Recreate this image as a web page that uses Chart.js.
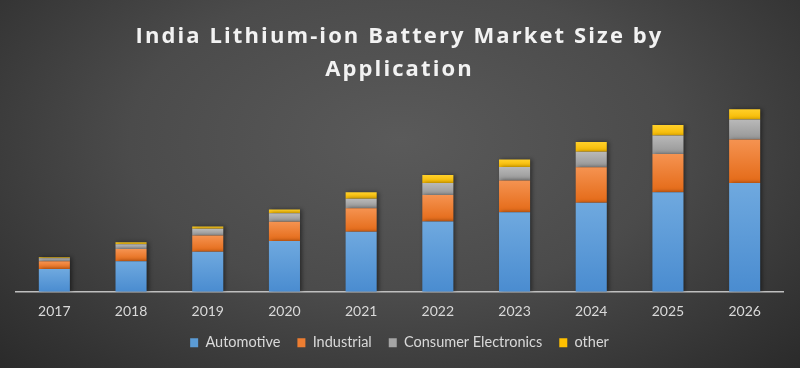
<!DOCTYPE html>
<html>
<head>
<meta charset="utf-8">
<script src="https://cdn.jsdelivr.net/npm/chart.js@4/dist/chart.umd.min.js"></script>
<style>
  html, body { margin: 0; padding: 0; }
  body {
    width: 800px; height: 368px; overflow: hidden;
    background: radial-gradient(ellipse 75% 95% at 50% 38%, #5a5a5a 0%, #4b4b4b 45%, #333333 80%, #262626 100%);
  }
  #wrap { width: 800px; height: 368px; position: relative; }
</style>
</head>
<body>
<div id="wrap"><canvas id="c"></canvas></div>
<script>
const categories = ['2017','2018','2019','2020','2021','2022','2023','2024','2025','2026'];
const automotive = [22.3, 30, 39.3, 50, 59, 69.3, 78.3, 87.7, 98, 107.3];
const industrial = [7.7, 12, 16, 19, 23.3, 26, 31.4, 35, 37.7, 42.7];
const consumerElectronics = [3, 4.7, 6.7, 8.3, 9.4, 12, 13.3, 15.3, 18.3, 19.7];
const other = [1, 2, 2.3, 3.7, 6.3, 7.7, 7.3, 9.7, 10.3, 10.3];
const seriesNames = ['Automotive', 'Industrial', 'Consumer Electronics', 'other'];
const titleLines = ['India Lithium-ion Battery Market Size by', 'Application'];

const allSeries = [automotive, industrial, consumerElectronics, other];
const palette = [
  ['#6fa9df', '#4a8cd0', '#5b9bd5'],
  ['#f59351', '#e46a17', '#ed7d31'],
  ['#b9b9b9', '#969696', '#a5a5a5'],
  ['#ffd02a', '#f5b800', '#ffc000']
];

function segGradient(si) {
  return function(ctx) {
    const chart = ctx.chart;
    const area = chart.chartArea;
    if (!area || ctx.type !== 'data') return palette[si][2];
    const y = chart.scales.y;
    let start = 0;
    for (let k = 0; k < si; k++) start += allSeries[k][ctx.dataIndex];
    const end = start + allSeries[si][ctx.dataIndex];
    const yTop = y.getPixelForValue(end);
    const yBot = y.getPixelForValue(start);
    if (!isFinite(yTop) || !isFinite(yBot) || yTop === yBot) return palette[si][2];
    const g = chart.ctx.createLinearGradient(0, yTop, 0, yBot);
    g.addColorStop(0, palette[si][0]);
    g.addColorStop(1, palette[si][1]);
    return g;
  };
}

const shadowPlugin = {
  id: 'barShadow',
  beforeDatasetsDraw(chart) {
    const c = chart.ctx;
    c.save();
    c.shadowColor = 'rgba(0,0,0,0.45)';
    c.shadowBlur = 4;
    c.shadowOffsetX = 2;
    c.shadowOffsetY = 0;
  },
  afterDatasetsDraw(chart) {
    chart.ctx.restore();
  }
};

// widen the title glyph spacing like the reference
const titleSpacingPlugin = {
  id: 'titleSpacing',
  beforeDraw(chart) {
    const tb = chart.titleBlock;
    if (tb && !tb._spaced) {
      const orig = tb.draw.bind(tb);
      tb.draw = function(...args) {
        const c = chart.ctx;
        c.save();
        c.letterSpacing = '2.1px';
        orig(...args);
        c.restore();
      };
      tb._spaced = true;
    }
  }
};

const FONT = "Lato, 'Open Sans', 'DejaVu Sans', sans-serif";

new Chart(document.getElementById('c'), {
  type: 'bar',
  data: {
    labels: categories,
    datasets: allSeries.map((arr, i) => ({
      label: seriesNames[i],
      data: arr,
      backgroundColor: segGradient(i),
      borderWidth: 0,
      barPercentage: 0.81,
      categoryPercentage: 0.5
    }))
  },
  options: {
    responsive: true,
    maintainAspectRatio: false,
    animation: false,
    layout: { padding: { left: 16, right: 17, top: 5, bottom: 8 } },
    plugins: {
      title: {
        display: true,
        text: titleLines,
        color: '#f2f2f2',
        font: { family: "'Open Sans', Lato, sans-serif", size: 22, weight: 'bold', lineHeight: 1.5 },
        padding: { top: 15, bottom: 13 }
      },
      legend: {
        position: 'bottom',
        labels: {
          color: '#d9d9d9',
          font: { family: FONT, size: 14.5 },
          boxWidth: 8,
          boxHeight: 9,
          padding: 17,
          generateLabels(chart) {
            return chart.data.datasets.map((ds, i) => ({
              text: ds.label,
              fillStyle: palette[i][2],
              strokeStyle: palette[i][2],
              lineWidth: 0,
              hidden: false,
              datasetIndex: i,
              fontColor: '#d9d9d9'
            }));
          }
        }
      },
      tooltip: { enabled: false }
    },
    scales: {
      x: {
        stacked: true,
        grid: { display: false, drawTicks: false },
        border: { display: true, color: '#bfbfbf', width: 1.5 },
        ticks: { color: '#d9d9d9', font: { family: FONT, size: 14 }, padding: 11 },
        afterFit(scale) { scale.height -= 12; }
      },
      y: {
        stacked: true,
        display: false,
        min: 0,
        max: 190
      }
    }
  },
  plugins: [shadowPlugin, titleSpacingPlugin]
});
</script>
</body>
</html>
